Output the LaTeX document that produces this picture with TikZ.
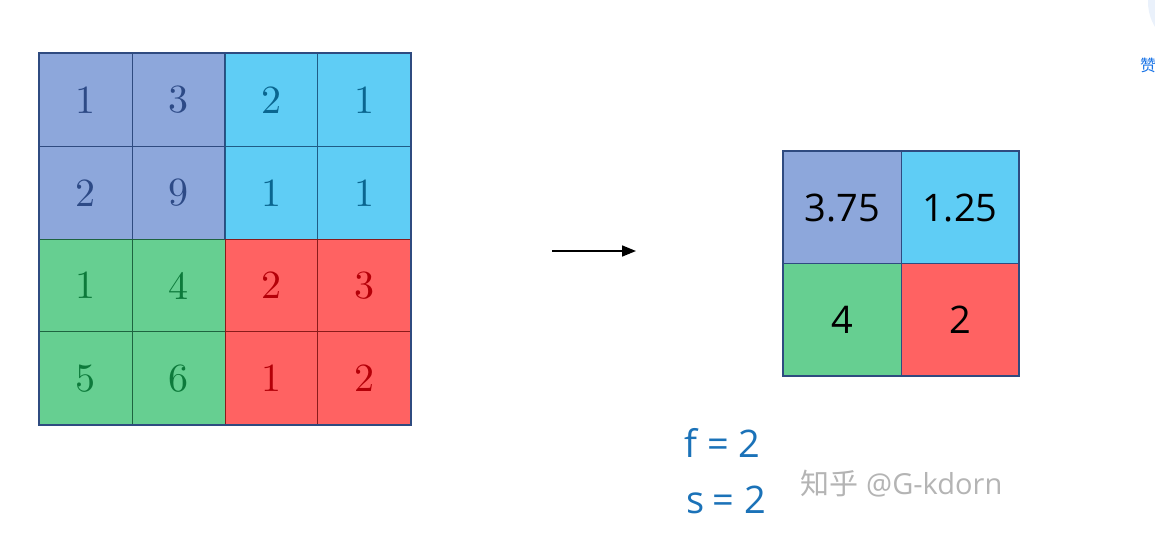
\documentclass[tikz,border=0pt]{standalone}
\usepackage{fontspec}
\newfontfamily\cjk{Noto Sans CJK SC}
\newfontfamily\hand{Open Sans}
\newfontfamily\digitsfont{lmroman10-regular.otf}
\usetikzlibrary{arrows.meta}
\definecolor{cpurp}{HTML}{8DA7DB}
\definecolor{ccyan}{HTML}{5FCDF5}
\definecolor{cgreen}{HTML}{66CF91}
\definecolor{cred}{HTML}{FF6262}
\definecolor{tpurp}{HTML}{2D4A86}
\definecolor{tcyan}{HTML}{0A6690}
\definecolor{tgreen}{HTML}{0D7A3B}
\definecolor{tred}{HTML}{B40008}
\definecolor{lpurp}{HTML}{2F4B80}
\definecolor{lcyan}{HTML}{1F5C86}
\definecolor{lgreen}{HTML}{1E6440}
\definecolor{lred}{HTML}{8A1B1B}
\definecolor{handblue}{HTML}{1B72B8}
\definecolor{wm}{HTML}{B4B4B4}
\definecolor{zan}{HTML}{1772E6}
\definecolor{zanbg}{HTML}{EAF1FB}
\tikzset{
  cellP/.style={draw=lpurp,fill=cpurp,text=tpurp,line width=1.2pt,minimum size=92.75pt,inner sep=0pt,anchor=north west,font=\digitsfont\fontsize{40}{44}\selectfont},
  cellC/.style={cellP,draw=lcyan,fill=ccyan,text=tcyan},
  cellG/.style={cellP,draw=lgreen,fill=cgreen,text=tgreen},
  cellR/.style={cellP,draw=lred,fill=cred,text=tred},
  outP/.style={draw=lpurp,fill=cpurp,line width=1.2pt,minimum width=117.5pt,minimum height=112pt,inner sep=0pt,anchor=north west,text=black,font=\hand\fontsize{38}{42}\selectfont},
  outC/.style={outP,fill=ccyan},
  outG/.style={outP,fill=cgreen},
  outR/.style={outP,fill=cred},
  handtxt/.style={text=handblue,font=\hand\fontsize{38}{42}\selectfont,inner sep=0pt},
}
\begin{document}
\begin{tikzpicture}[x=1pt,y=-1pt]
\useasboundingbox (0,0) rectangle (1155,541);
\clip (0,0) rectangle (1155,541);
% top-right UI remnants
\fill[zanbg] (1196,2) circle (48);
\node[text=zan,font=\cjk\fontsize{16}{17}\selectfont,anchor=west,inner sep=0pt] (zan) at (1140,65) {赞};
% input grid
\node[cellP] (a11) at (39,53) {1};
\node[cellP] (a12) at (131.75,53) {3};
\node[cellC] (a13) at (224.5,53) {2};
\node[cellC] (a14) at (317.25,53) {1};
\node[cellP] (a21) at (39,145.75) {2};
\node[cellP] (a22) at (131.75,145.75) {9};
\node[cellC] (a23) at (224.5,145.75) {1};
\node[cellC] (a24) at (317.25,145.75) {1};
\node[cellG] (a31) at (39,238.5) {1};
\node[cellG] (a32) at (131.75,238.5) {4};
\node[cellR] (a33) at (224.5,238.5) {2};
\node[cellR] (a34) at (317.25,238.5) {3};
\node[cellG] (a41) at (39,331.25) {5};
\node[cellG] (a42) at (131.75,331.25) {6};
\node[cellR] (a43) at (224.5,331.25) {1};
\node[cellR] (a44) at (317.25,331.25) {2};
\draw[lpurp,line width=1.5pt] (a11.north west) rectangle (a44.south east);
\draw[lpurp,line width=1.2pt] (a13.north west) -- (a23.south west);
% arrow
\coordinate (arrS) at (552,251);
\coordinate (arrE) at (636,251);
\draw[line width=1.6pt,-{Triangle[length=14pt,width=11pt]}] (arrS) -- (arrE);
% output grid
\node[outP] (b11) at (783,151) {3.75};
\node[outC] (b12) at (900.5,151) {1.25};
\node[outG] (b21) at (783,263) {4};
\node[outR] (b22) at (900.5,263) {2};
\draw[lpurp,line width=1.5pt] (b11.north west) rectangle (b22.south east);
% hyperparameters
\node[handtxt,anchor=west] (f) at (684,443) {f\kern10pt=\kern10pt2};
\node[handtxt,anchor=west] (s) at (686,500) {s\kern8pt=\kern10pt2};
% watermark
\node[text=wm,anchor=west,inner sep=0pt,font=\fontsize{29}{32}\selectfont] (wmk) at (800,484) {{\cjk 知乎}\hspace{8pt}{\hand @G-kdorn}};
\end{tikzpicture}
\end{document}
